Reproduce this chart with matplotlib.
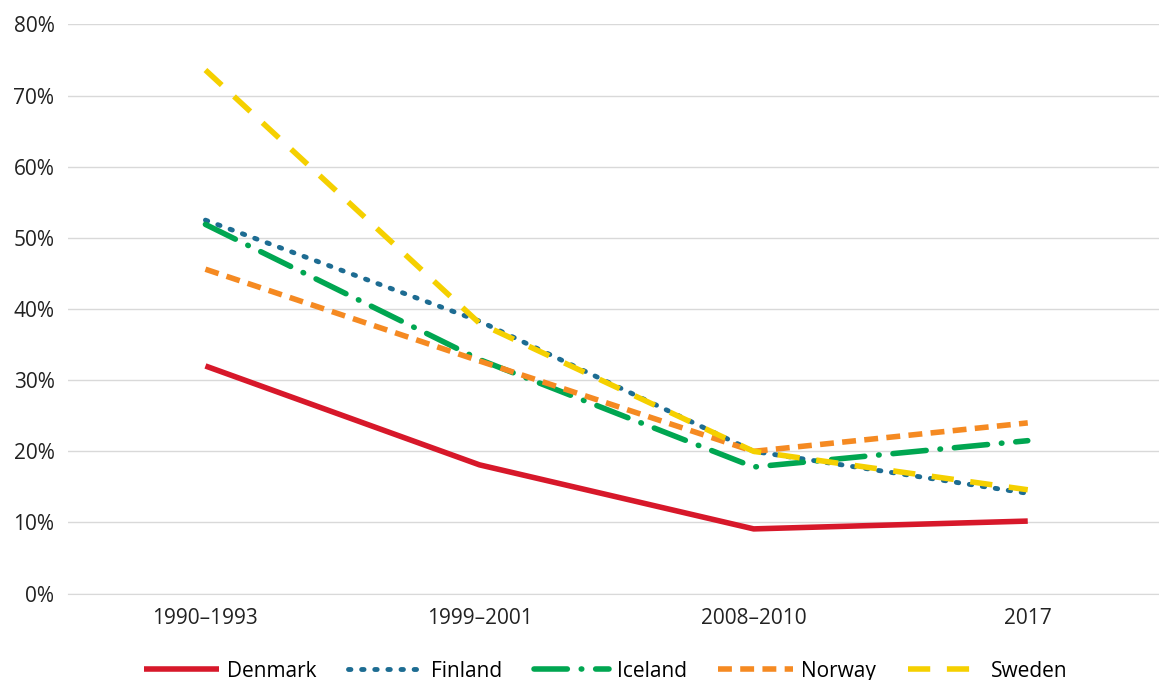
import matplotlib.pyplot as plt
from matplotlib.ticker import PercentFormatter

periods = ["1990–1993", "1999–2001", "2008–2010", "2017"]
denmark = [32.0, 18.1, 9.1, 10.2]
finland = [52.5, 38.3, 20.0, 14.1]
iceland = [51.9, 32.9, 17.8, 21.5]
norway = [45.6, 32.7, 20.0, 24.0]
sweden = [73.6, 38.0, 20.0, 14.6]

plt.rcParams['font.family'] = ['Open Sans', 'DejaVu Sans']
fig = plt.figure(figsize=(11.59, 6.8), dpi=100)
ax = fig.add_axes([0.059, 0.127, 0.946, 0.837])

x = range(len(periods))
ax.plot(x, denmark, color="#d7182a", lw=4, solid_capstyle="butt", label="Denmark")
ax.plot(x, finland, color="#1d6c92", lw=3.5, linestyle=(0, (0.5, 2.2)), dash_capstyle="round", label="Finland")
ax.plot(x, iceland, color="#00a651", lw=4, linestyle=(0, (6, 2.5, 0.1, 2.5)), dash_capstyle="round", label="Iceland")
ax.plot(x, norway, color="#f58a22", lw=4, linestyle=(0, (2.5, 1.5)), label="Norway")
ax.plot(x, sweden, color="#f5d000", lw=4, linestyle=(0, (4, 3)), label="Sweden")

ax.set_xlim(-0.5, 3.5)
ax.set_ylim(0, 80)
ax.set_yticks(range(0, 81, 10))
ax.yaxis.set_major_formatter(PercentFormatter(decimals=0))
ax.set_xticks(list(x))
ax.set_xticklabels(periods)
ax.grid(axis="y", color="#d9d9d9", lw=1)
ax.set_axisbelow(True)
for s in ["top", "right", "left"]:
    ax.spines[s].set_visible(False)
ax.spines["bottom"].set_color("#d9d9d9")
ax.tick_params(length=0, labelsize=15, colors="#222222", pad=10)

ax.legend(loc="upper center", bbox_to_anchor=(0.49, -0.085), ncol=5, frameon=False,
          fontsize=15, handlelength=3.6, columnspacing=1.5, handletextpad=0.4)
fig.savefig("out.png")
